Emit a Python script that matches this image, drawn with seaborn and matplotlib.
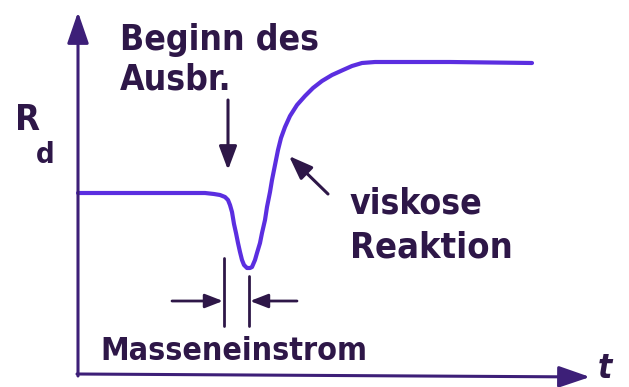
import matplotlib
matplotlib.use("Agg")
import matplotlib.pyplot as plt
import seaborn as sns

sns.set_theme(style="white")
plt.rcParams["font.family"] = ["DejaVu Sans"]

# Response curve R_d(t): plateau, dip during the mass inflow, viscous rise to a higher plateau
t_vals = [78, 150, 205, 214, 220, 225, 228, 230, 232, 234, 236, 238, 240, 242, 244, 247,
          250, 252, 255, 257, 260, 262, 265, 267, 270, 272, 275, 278, 281, 285, 290,
          297, 305, 313, 322, 332, 343, 352, 362, 375, 450, 532]
r_vals = [193, 193, 193, 194, 195, 197, 200, 205, 212, 224, 233, 243, 252, 260, 265, 268,
          268, 267, 260, 253, 243, 233, 220, 207, 192, 180, 165, 150, 138, 127, 116,
          105, 96, 88, 81, 75, 70, 66, 63, 62, 62, 63]

labels = {
    "onset": ["Beginn des", "Ausbr."],
    "viscous": ["viskose", "Reaktion"],
    "inflow": "Masseneinstrom",
    "y": ("R", "d"),
    "x": "t",
}

line_col = "#5b2ee0"
ink = "#2e1748"
axis_col = "#3d1f78"

fig = plt.figure(figsize=(6.29, 3.87), dpi=100)
ax = fig.add_axes([0, 0, 1, 1])
ax.set_xlim(0, 629)
ax.set_ylim(387, 0)
ax.axis("off")

sns.lineplot(x=t_vals, y=r_vals, ax=ax, color=line_col, lw=3.0, sort=False,
             solid_capstyle="round", solid_joinstyle="round")

# coordinate axes with arrow heads
head = dict(arrowstyle="-|>,head_length=1.6,head_width=0.55", lw=2.2,
            color=axis_col, shrinkA=0, shrinkB=0)
ax.annotate("", xy=(78, 12), xytext=(78, 376), arrowprops=head)
ax.annotate("", xy=(590, 377), xytext=(77, 374), arrowprops=head)

tfont = dict(family="DejaVu Sans", fontweight="bold", fontstretch="condensed",
             color=ink, fontsize=25.5)

ax.text(120, 50, labels["onset"][0], **tfont)
ax.text(120, 90, labels["onset"][1], **tfont)
ax.text(350, 213, labels["viscous"][0], **tfont)
ax.text(350, 258, labels["viscous"][1], **dict(tfont, fontsize=26))
ax.text(100, 360, labels["inflow"], **dict(tfont, fontsize=23))
ax.text(15, 130, labels["y"][0], **dict(tfont, fontsize=26))
ax.text(36, 163, labels["y"][1], **dict(tfont, fontsize=21))
ax.text(598, 378, labels["x"], **dict(tfont, fontsize=24, style="italic"))

# pointer arrows
ptr = dict(arrowstyle="-|>,head_length=1.2,head_width=0.45", lw=2.2,
           color=ink, shrinkA=0, shrinkB=0)
ax.annotate("", xy=(228, 170), xytext=(228, 100), arrowprops=ptr)
ax.annotate("", xy=(289, 156), xytext=(328, 194), arrowprops=ptr)

# markers bounding the inflow interval
ax.plot([224, 224], [258, 326], color=ink, lw=2.0, solid_capstyle="round")
ax.plot([249, 249], [276, 326], color=ink, lw=2.0, solid_capstyle="round")
small = dict(arrowstyle="-|>,head_length=0.9,head_width=0.35", lw=2.0,
             color=ink, shrinkA=0, shrinkB=0)
ax.annotate("", xy=(223, 301), xytext=(172, 301), arrowprops=small)
ax.annotate("", xy=(250, 301), xytext=(297, 301), arrowprops=small)

fig.savefig("out.png", dpi=100)
